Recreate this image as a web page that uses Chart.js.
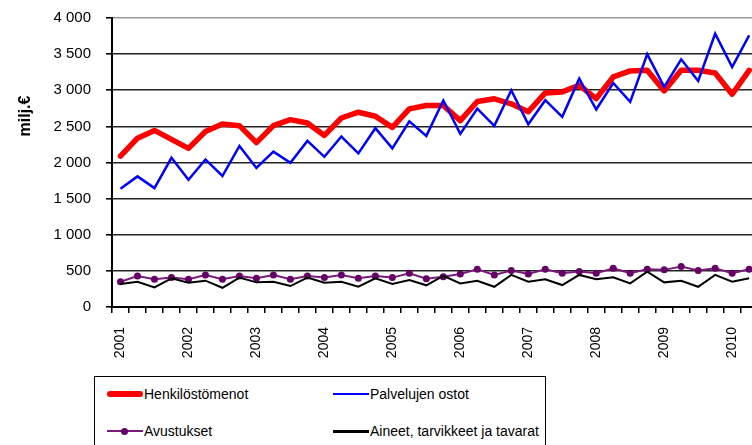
<!DOCTYPE html>
<html><head><meta charset="utf-8">
<script src="https://cdn.jsdelivr.net/npm/chart.js@4"></script>
<style>
html,body{margin:0;padding:0;background:#fff;overflow:hidden;width:752px;height:445px;}
#wrap{position:absolute;left:0;top:0;width:780px;height:445px;}
#legend{position:absolute;left:94px;top:376px;width:450px;height:80px;border:1px solid #000;background:#fff;font-family:"Liberation Sans",Arial,sans-serif;font-size:14px;color:#000;}
.item{position:absolute;height:18px;display:flex;align-items:center;white-space:nowrap;}
.sw{width:36px;margin-right:1px;position:relative;}
.dot{position:absolute;left:14px;top:50%;width:7px;height:7px;margin-top:-3.5px;border-radius:50%;background:#660066;}
</style></head>
<body>
<div id="wrap"><canvas id="c"></canvas></div>
<div id="legend"></div>
<script>
const quarters = [
 "2001 Q1","2001 Q2","2001 Q3","2001 Q4","2002 Q1","2002 Q2","2002 Q3","2002 Q4",
 "2003 Q1","2003 Q2","2003 Q3","2003 Q4","2004 Q1","2004 Q2","2004 Q3","2004 Q4",
 "2005 Q1","2005 Q2","2005 Q3","2005 Q4","2006 Q1","2006 Q2","2006 Q3","2006 Q4",
 "2007 Q1","2007 Q2","2007 Q3","2007 Q4","2008 Q1","2008 Q2","2008 Q3","2008 Q4",
 "2009 Q1","2009 Q2","2009 Q3","2009 Q4","2010 Q1","2010 Q2"];
const henkilostomenot = [2089,2336,2444,2320,2196,2430,2533,2510,2275,2510,2593,2547,
 2375,2616,2696,2640,2486,2742,2789,2789,2579,2845,2882,2812,
 2703,2963,2977,3069,2885,3184,3267,3276,2991,3276,3276,3239,2945,3276];
const palvelujenOstot = [1636,1808,1645,2065,1762,2042,1813,2229,1925,2150,1995,2299,
 2079,2359,2126,2475,2196,2569,2368,2858,2396,2746,2508,3000,
 2530,2862,2632,3161,2733,3101,2839,3500,3046,3428,3129,3782,3322,3759];
const avustukset = [350,430,383,407,383,444,383,430,397,444,383,430,
 407,444,397,430,407,467,390,420,458,523,444,505,
 458,523,467,490,467,537,467,523,514,561,505,537,467,523];
const aineet = [318,350,271,397,336,364,266,407,341,350,290,407,
 336,350,280,397,318,374,300,430,327,364,280,444,
 350,383,304,444,383,411,327,490,341,364,280,444,350,397];
const seriesNames = ["Henkilöstömenot","Palvelujen ostot","Avustukset","Aineet, tarvikkeet ja tavarat"];
const yTitle = "milj.€";
const yTicks = [0,500,1000,1500,2000,2500,3000,3500,4000];

const FONT = '"Liberation Sans", Arial, sans-serif';
const fmt = v => String(v).replace(/\B(?=(\d{3})+(?!\d))/g, ' ');

const titlePlugin = {
  id: 'ytitle',
  afterDraw(chart) {
    const ctx = chart.ctx;
    ctx.save();
    ctx.translate(26, 116);
    ctx.rotate(-Math.PI / 2);
    ctx.font = 'bold 16px ' + FONT;
    ctx.textAlign = 'center';
    ctx.textBaseline = 'middle';
    ctx.fillStyle = '#000';
    ctx.fillText(yTitle, 0, 0);
    ctx.restore();
  }
};

new Chart(document.getElementById('c'), {
  type: 'line',
  data: {
    labels: quarters,
    datasets: [
      {label: seriesNames[0], data: henkilostomenot, borderColor: '#ff0000', backgroundColor: '#ff0000', borderWidth: 5.5, pointRadius: 0, tension: 0, order: 4, borderJoinStyle: 'round', borderCapStyle: 'round'},
      {label: seriesNames[1], data: palvelujenOstot, borderColor: '#0000ff', backgroundColor: '#0000ff', borderWidth: 2.5, pointRadius: 0, tension: 0, order: 3},
      {label: seriesNames[2], data: avustukset, borderColor: '#7a1a7a', backgroundColor: '#660066', borderWidth: 2, pointRadius: 3.5, pointBorderWidth: 0, pointBackgroundColor: '#660066', tension: 0, order: 2},
      {label: seriesNames[3], data: aineet, borderColor: '#000000', backgroundColor: '#000000', borderWidth: 2, pointRadius: 0, tension: 0, order: 1}
    ]
  },
  options: {
    responsive: true,
    maintainAspectRatio: false,
    animation: false,
    layout: {padding: {top: 18, right: 3, left: 0, bottom: 0}},
    plugins: {legend: {display: false}, tooltip: {enabled: false}},
    scales: {
      x: {
        offset: true,
        grid: {offset: true, drawOnChartArea: false, drawTicks: true, tickLength: 6, tickColor: '#000', lineWidth: 1.5},
        border: {color: '#000', width: 2},
        ticks: {
          autoSkip: false, maxRotation: 90, minRotation: 90, padding: 14, color: '#000',
          font: {family: FONT, size: 14},
          callback: (v, i) => quarters[i].endsWith('Q1') ? quarters[i].slice(0, 4) : ''
        },
        afterFit(s) { s.height = 138; }
      },
      y: {
        min: 0, max: 4000,
        afterBuildTicks(s) { s.ticks = yTicks.map(v => ({value: v})); },
        grid: {color: c => (c.tick && c.tick.value === 4000) ? '#9a9a9a' : '#222', lineWidth: 1.6, tickLength: 6, tickColor: '#000'},
        border: {color: '#000', width: 2},
        ticks: {padding: 15, color: '#000', font: {family: FONT, size: 15}, callback: v => fmt(v)},
        afterFit(s) { s.width = 112; s.paddingTop = 0; s.paddingBottom = 0; }
      }
    }
  },
  plugins: [titlePlugin]
});

// HTML legend
const legendItems = [
  {name: seriesNames[0], left: 12, top: 8, css: 'height:6px;border-radius:3px;background:#ff0000;'},
  {name: seriesNames[1], left: 238, top: 8, css: 'height:2.5px;background:#0000ff;'},
  {name: seriesNames[2], left: 12, top: 45, css: 'height:2.5px;background:#7a1a7a;', dot: true},
  {name: seriesNames[3], left: 238, top: 45, css: 'height:3px;background:#000;'}
];
const lg = document.getElementById('legend');
legendItems.forEach(it => {
  const d = document.createElement('div');
  d.className = 'item';
  d.style.left = it.left + 'px';
  d.style.top = it.top + 'px';
  const sw = document.createElement('span');
  sw.className = 'sw';
  sw.style.cssText += it.css;
  if (it.dot) { const dt = document.createElement('span'); dt.className = 'dot'; sw.appendChild(dt); }
  const t = document.createElement('span');
  t.textContent = it.name;
  d.appendChild(sw); d.appendChild(t);
  lg.appendChild(d);
});
</script>
</body></html>
